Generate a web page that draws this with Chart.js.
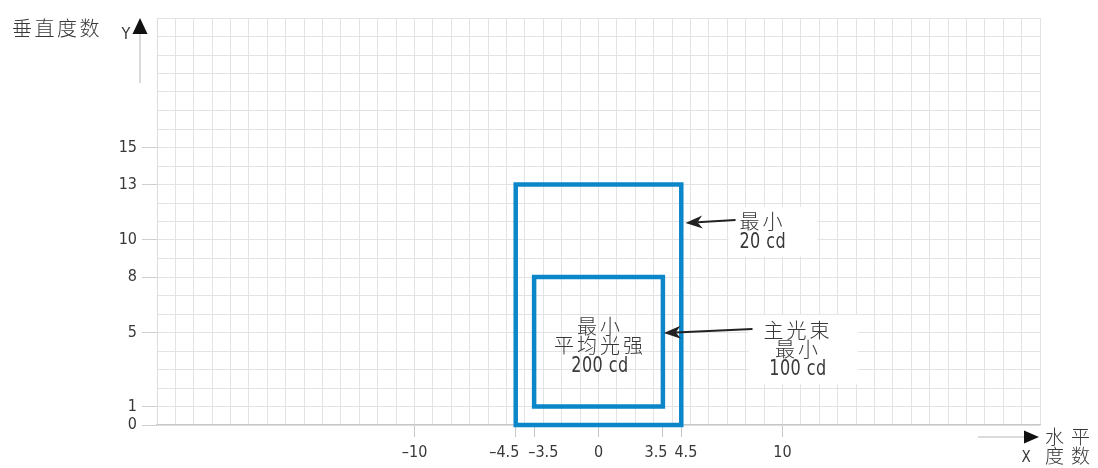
<!DOCTYPE html>
<html>
<head>
<meta charset="utf-8">
<script src="https://cdn.jsdelivr.net/npm/chart.js@4/dist/chart.umd.min.js"></script>
<style>
  html, body { margin: 0; padding: 0; background: #fff; }
  #wrap { width: 1098px; height: 468px; }
</style>
</head>
<body>
<div id="wrap"><canvas id="c" width="1098" height="468"></canvas></div>
<script>
// Axis extents (grid every 1 unit)
const xRange = [-24, 24];
const yRange = [0, 22];

// Labelled ticks
const xTickValues = [-10, -4.5, -3.5, 0, 3.5, 4.5, 10];
const xTickLabels = ['–10', '–4.5', '–3.5', '0', '3.5', '4.5', '10'];
const yTickValues = [0, 1, 5, 8, 10, 13, 15];
const yTickLabels = ['0', '1', '5', '8', '10', '13', '15'];

// Zone limits (degrees)
const outerZoneX = [-4.5, 4.5];
const outerZoneY = [0, 13];
const innerZoneX = [-3.5, 3.5];
const innerZoneY = [1, 8];

// Annotation texts
const outerZoneNote = ['最小', '20 cd'];
const beamNote = ['主光束', '最小', '100 cd'];
const innerZoneNote = ['最小', '平均光强', '200 cd'];
const yAxisTitle = '垂直度数';
const xAxisTitle = ['水平', '度数'];

const NUM_FONT = "'Liberation Sans Narrow', 'DejaVu Sans Condensed', sans-serif";
const CJK_FONT = "'Noto Sans CJK SC', sans-serif";
const BLUE = '#0b87c9';
const TEXT = '#383838';

// Closed outline of a zone, starting mid-bottom so every corner is mitred
function zoneOutline(xs, ys) {
  const mid = (xs[0] + xs[1]) / 2;
  return [
    { x: mid, y: ys[0] }, { x: xs[0], y: ys[0] }, { x: xs[0], y: ys[1] },
    { x: xs[1], y: ys[1] }, { x: xs[1], y: ys[0] }, { x: mid, y: ys[0] }
  ];
}

function integerTicks(r) {
  const out = [];
  for (let v = r[0]; v <= r[1]; v++) out.push(v);
  return out;
}

// Nudge a few crowded x labels sideways by padding them with spaces
const measureCtx = document.createElement('canvas').getContext('2d');
measureCtx.font = '16px ' + NUM_FONT;
const spaceW = measureCtx.measureText(' ').width || 4;
const xLabelNudge = { '-4.5': -11, '-3.5': 8, '3.5': -7, '4.5': 4 };
function nudged(label, shift) {
  const n = Math.max(0, Math.round(Math.abs(shift) * 2 / spaceW));
  const pad = ' '.repeat(n);
  return shift < 0 ? label + pad : pad + label;
}

function labelFor(values, labels, v) {
  const i = values.findIndex(t => Math.abs(t - v) < 1e-9);
  return i < 0 ? null : labels[i];
}

function arrow(ctx, x1, y1, x2, y2) {
  const ang = Math.atan2(y2 - y1, x2 - x1);
  const head = 17, half = 6.5, notch = 12;
  const cos = Math.cos(ang), sin = Math.sin(ang);
  const bx = x2 - cos * notch, by = y2 - sin * notch;
  ctx.save();
  ctx.strokeStyle = '#222';
  ctx.fillStyle = '#222';
  ctx.lineWidth = 2.2;
  ctx.beginPath();
  ctx.moveTo(x1, y1);
  ctx.lineTo(bx, by);
  ctx.stroke();
  ctx.beginPath();
  ctx.moveTo(x2, y2);
  ctx.lineTo(x2 - cos * head - sin * half, y2 - sin * head + cos * half);
  ctx.lineTo(bx, by);
  ctx.lineTo(x2 - cos * head + sin * half, y2 - sin * head - cos * half);
  ctx.closePath();
  ctx.fill();
  ctx.restore();
}

// Stacked note lines; numeric lines are squeezed to a condensed look
function drawLines(ctx, lines, x, y, offsets, align) {
  ctx.textAlign = align;
  ctx.textBaseline = 'middle';
  lines.forEach((t, i) => {
    const cjk = /[\u4e00-\u9fff]/.test(t);
    const tx = x + (align === 'center' ? 1.5 : 0);
    const ty = y + offsets[i];
    if (cjk) {
      ctx.font = '300 20px ' + CJK_FONT;
      ctx.letterSpacing = '3px';
      ctx.fillText(t, tx, ty);
    } else {
      ctx.font = '21px ' + NUM_FONT;
      ctx.letterSpacing = '0.5px';
      ctx.save();
      ctx.translate(tx, ty);
      ctx.scale(0.85, 1);
      ctx.fillText(t, 0, 0);
      ctx.restore();
    }
  });
  ctx.letterSpacing = '0px';
}

const decorations = {
  id: 'decorations',
  beforeDatasetsDraw(chart) {
    const { ctx, scales: { x, y } } = chart;
    ctx.save();
    ctx.fillStyle = '#ffffff';
    // white panels behind the side notes
    [[7.07, 11.9, 9.1, 11.8], [8.15, 14.1, 2.2, 5.95]].forEach(b => {
      const l = x.getPixelForValue(b[0]), r = x.getPixelForValue(b[1]);
      const bt = y.getPixelForValue(b[3]), bb = y.getPixelForValue(b[2]);
      ctx.fillRect(l, bt, r - l, bb - bt);
    });
    ctx.restore();
  },
  afterDatasetsDraw(chart) {
    const { ctx, scales: { x, y } } = chart;
    const px = v => x.getPixelForValue(v), py = v => y.getPixelForValue(v);
    arrow(ctx, px(7.45), py(11.08), px(4.73), py(10.92));
    arrow(ctx, px(8.37), py(5.19), px(3.55), py(4.97));
    ctx.save();
    ctx.fillStyle = TEXT;
    drawLines(ctx, outerZoneNote, px(7.66), py(11.03), [0, 22], 'left');
    drawLines(ctx, beamNote, px(10.76), py(5.14), [0, 19, 40], 'center');
    drawLines(ctx, innerZoneNote, px(0), py(5.35), [0, 19, 41], 'center');
    ctx.restore();
  },
  afterDraw(chart) {
    const { ctx, chartArea: ca } = chart;
    ctx.save();
    // vertical axis arrow
    const ax = ca.left - 17;
    ctx.strokeStyle = '#cfcfcf';
    ctx.lineWidth = 1.5;
    ctx.beginPath();
    ctx.moveTo(ax, ca.top + 65);
    ctx.lineTo(ax, ca.top + 15);
    ctx.stroke();
    ctx.fillStyle = '#111';
    ctx.beginPath();
    ctx.moveTo(ax, ca.top);
    ctx.lineTo(ax - 7.5, ca.top + 16);
    ctx.lineTo(ax + 7.5, ca.top + 16);
    ctx.closePath();
    ctx.fill();
    ctx.fillStyle = TEXT;
    ctx.font = '16px ' + NUM_FONT;
    ctx.textAlign = 'center';
    ctx.textBaseline = 'middle';
    ctx.fillText('Y', ax - 14, ca.top + 17);
    ctx.font = '300 20px ' + CJK_FONT;
    ctx.letterSpacing = '2.5px';
    ctx.textAlign = 'left';
    ctx.fillText(yAxisTitle, 12, ca.top + 10);

    // horizontal axis arrow
    const ay = ca.bottom + 12;
    ctx.strokeStyle = '#cfcfcf';
    ctx.beginPath();
    ctx.moveTo(ca.right - 62, ay);
    ctx.lineTo(ca.right - 15, ay);
    ctx.stroke();
    ctx.fillStyle = '#111';
    ctx.beginPath();
    ctx.moveTo(ca.right - 1, ay);
    ctx.lineTo(ca.right - 16, ay - 6.5);
    ctx.lineTo(ca.right - 16, ay + 6.5);
    ctx.closePath();
    ctx.fill();
    ctx.fillStyle = TEXT;
    ctx.letterSpacing = '0px';
    ctx.font = '15px ' + NUM_FONT;
    ctx.textAlign = 'center';
    ctx.fillText('X', ca.right - 14, ay + 21);
    ctx.font = '300 19px ' + CJK_FONT;
    ctx.letterSpacing = '7px';
    ctx.textAlign = 'left';
    ctx.fillText(xAxisTitle[0], ca.right + 5, ay);
    ctx.fillText(xAxisTitle[1], ca.right + 5, ay + 19);
    ctx.restore();
  }
};

const zoneStyle = {
  showLine: true,
  pointRadius: 0,
  pointHoverRadius: 0,
  borderColor: BLUE,
  borderWidth: 4.5,
  borderJoinStyle: 'miter',
  borderCapStyle: 'butt',
  tension: 0,
  fill: false,
  clip: false
};

new Chart(document.getElementById('c'), {
  type: 'scatter',
  data: {
    datasets: [
      Object.assign({ label: 'outer', data: zoneOutline(outerZoneX, outerZoneY) }, zoneStyle),
      Object.assign({ label: 'inner', data: zoneOutline(innerZoneX, innerZoneY) }, zoneStyle)
    ]
  },
  options: {
    responsive: false,
    animation: false,
    devicePixelRatio: 1,
    layout: { padding: { top: 18, right: 58, left: 0, bottom: 0 } },
    plugins: { legend: { display: false }, tooltip: { enabled: false } },
    events: [],
    scales: {
      x: {
        type: 'linear',
        min: xRange[0],
        max: xRange[1],
        afterBuildTicks(scale) {
          const vals = integerTicks(xRange).concat(xTickValues.filter(v => !Number.isInteger(v)));
          vals.sort((a, b) => a - b);
          scale.ticks = vals.map(v => ({ value: v }));
        },
        afterFit(scale) { scale.height = 43; },
        ticks: {
          autoSkip: false,
          maxRotation: 0,
          minRotation: 0,
          padding: 6,
          color: TEXT,
          font: { family: NUM_FONT, size: 16 },
          callback(v) {
            const l = labelFor(xTickValues, xTickLabels, v);
            if (l === null) return '';
            const shift = xLabelNudge[String(v)];
            return shift ? nudged(l, shift) : l;
          }
        },
        grid: {
          color: c => (c.tick && Number.isInteger(c.tick.value)) ? '#e3e3e3' : 'rgba(0,0,0,0)',
          tickColor: c => (c.tick && labelFor(xTickValues, xTickLabels, c.tick.value) !== null) ? '#c8c8c8' : 'rgba(0,0,0,0)',
          tickLength: 12,
          lineWidth: 1
        },
        border: { color: '#c8c8c8', width: 1.2 }
      },
      y: {
        type: 'linear',
        min: yRange[0],
        max: yRange[1],
        afterBuildTicks(scale) {
          scale.ticks = integerTicks(yRange).map(v => ({ value: v }));
        },
        afterFit(scale) { scale.width = 157; },
        ticks: {
          autoSkip: false,
          padding: 5,
          color: TEXT,
          font: { family: NUM_FONT, size: 16 },
          callback(v) {
            const l = labelFor(yTickValues, yTickLabels, v);
            return l === null ? '' : l;
          }
        },
        grid: {
          color: '#e3e3e3',
          tickColor: c => (c.tick && labelFor(yTickValues, yTickLabels, c.tick.value) !== null) ? '#cfcfcf' : 'rgba(0,0,0,0)',
          tickLength: 15,
          lineWidth: 1
        },
        border: { color: '#dcdcdc', width: 1 }
      }
    }
  },
  plugins: [decorations]
});
</script>
</body>
</html>
